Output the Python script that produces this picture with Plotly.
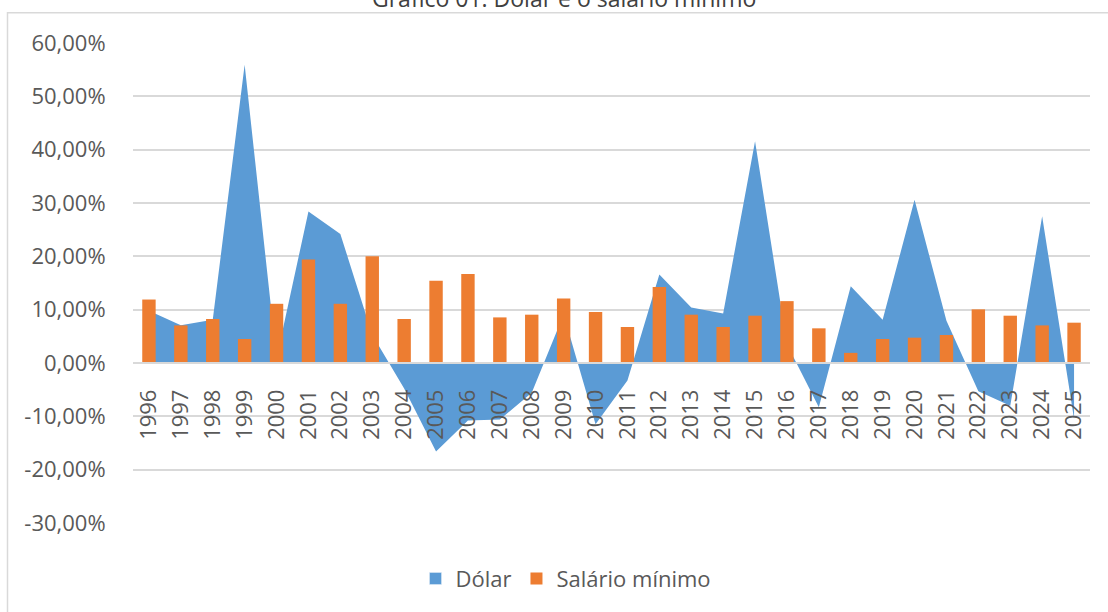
import plotly.graph_objects as go

years = [str(y) for y in range(1996, 2026)]
dolar_pct = [9.8, 7.1, 8.1, 55.9, 0.9, 28.4, 24.2, 5.3, -4.8, -16.6,
             -10.8, -10.6, -5.6, 9.1, -11.5, -3.3, 16.6, 10.4, 9.3, 41.6,
             3.5, -8.3, 14.4, 8.1, 30.6, 7.9, -5.3, -8.0, 27.5, -10.5]
salario_pct = [11.9, 7.05, 8.25, 4.5, 11.1, 19.4, 11.1, 20.0, 8.25, 15.4,
               16.7, 8.55, 9.06, 12.1, 9.56, 6.75, 14.25, 9.06, 6.75, 8.87,
               11.6, 6.5, 1.9, 4.5, 4.75, 5.25, 10.06, 8.87, 7.05, 7.56]
ytick_vals = [-30, -20, -10, 0, 10, 20, 30, 40, 50, 60]
ytick_text = ["-30,00%", "-20,00%", "-10,00%", "0,00%", "10,00%",
              "20,00%", "30,00%", "40,00%", "50,00%", "60,00%"]

title = "Gráfico 01: Dólar e o salário mínimo"
FONT = "Open Sans"
GREY = "#595959"
BLUE = "#5B9BD5"
ORANGE = "#ED7D31"

# pixel geometry of the plot area
L, R, T, B = 133, 1090, 43.3, 523.3
W, H = R - L, B - T


def px_x(p):
    return (p - L) / W


def px_y(p):
    return (B - p) / H


fig = go.Figure()
fig.add_trace(go.Scatter(
    x=years, y=dolar_pct, name="Dólar", mode="lines",
    line=dict(width=0, color=BLUE), fill="tozeroy",
    fillcolor=BLUE, xaxis="x", yaxis="y", showlegend=False,
    legendgroup="d"))
# legend key for the area (square swatch like the reference)
fig.add_trace(go.Bar(
    x=[years[0]], y=[None], name="Dólar", marker=dict(color=BLUE),
    xaxis="x", yaxis="y2", legendgroup="d", showlegend=True))
fig.add_trace(go.Bar(
    x=years, y=salario_pct, name="Salário mínimo",
    marker=dict(color=ORANGE, line=dict(width=0)),
    width=0.42, xaxis="x", yaxis="y2"))

fig.update_layout(
    width=1108, height=612,
    margin=dict(l=L, r=1108 - R, t=T, b=612 - B, autoexpand=False),
    paper_bgcolor="white", plot_bgcolor="white",
    font=dict(family=FONT, color=GREY, size=20),
    showlegend=True, barmode="overlay",
    legend=dict(orientation="h", x=px_x(566), y=px_y(579),
                xanchor="center", yanchor="middle",
                font=dict(size=22, color=GREY, family=FONT),
                itemwidth=30, tracegroupgap=0, bgcolor="rgba(0,0,0,0)"),
    xaxis=dict(type="category", anchor="free", position=px_y(363.3),
               range=[-0.5, 29.5], tickangle=-90,
               tickfont=dict(size=22, color=GREY, family=FONT),
               ticks="outside", ticklen=17, tickcolor="rgba(0,0,0,0)",
               showgrid=False, showline=True, linecolor="#D9D9D9", linewidth=1.5,
               layer="above traces", fixedrange=True),
    yaxis=dict(range=[-30, 60], tickvals=ytick_vals, ticktext=ytick_text,
               tickfont=dict(size=22, color=GREY, family=FONT),
               ticks="outside", ticklen=22, tickcolor="rgba(0,0,0,0)",
               showgrid=True, gridcolor="#D9D9D9", gridwidth=1.5,
               zeroline=False, showline=False),
    yaxis2=dict(range=[-30, 60], overlaying="y", visible=False,
                showgrid=False, zeroline=False),
    shapes=[dict(type="rect", xref="paper", yref="paper",
                 x0=px_x(7.5), x1=px_x(1112), y0=px_y(616), y1=px_y(13),
                 line=dict(color="#D9D9D9", width=1.5),
                 fillcolor="rgba(0,0,0,0)", layer="below")],
    annotations=[dict(text=title, xref="paper", yref="paper",
                      x=px_x(564), y=px_y(-2), xanchor="center", yanchor="middle",
                      showarrow=False,
                      font=dict(size=23, color="#404040", family=FONT))],
)

fig.write_html("out.html", config={"displayModeBar": False},
               post_script="document.body.style.margin='0';document.body.style.padding='0';")
